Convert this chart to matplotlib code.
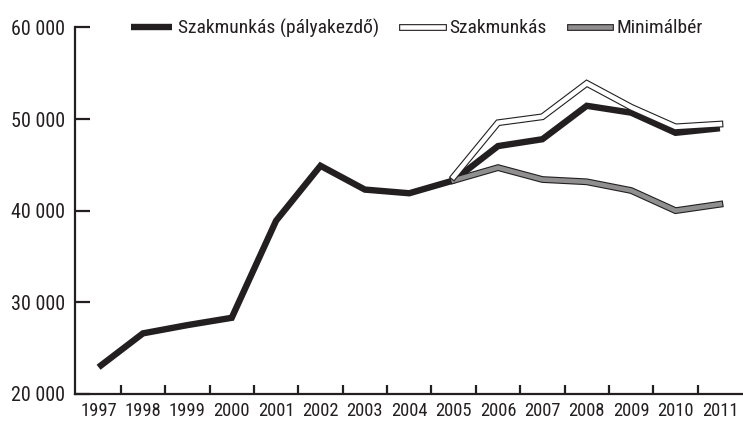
import matplotlib
matplotlib.use("Agg")
import matplotlib.pyplot as plt
import matplotlib.patheffects as pe
import numpy as np

plt.rcParams['font.family'] = ['Roboto Condensed', 'Archivo Narrow', 'PT Sans Narrow',
                               'Liberation Sans Narrow', 'Fira Sans Condensed',
                               'DejaVu Sans']

years = ["1997", "1998", "1999", "2000", "2001", "2002", "2003", "2004",
         "2005", "2006", "2007", "2008", "2009", "2010", "2011"]
palyakezdo = [22900, 26600, 27500, 28300, 38900, 44900, 42300, 41900,
              43300, 47050, 47800, 51450, 50700, 48500, 49000]
years_b = ["2005", "2006", "2007", "2008", "2009", "2010", "2011"]
szakmunkas = [43700, 49600, 50250, 53900, 51300, 49150, 49450]
minimalber = [43300, 44700, 43400, 43150, 42200, 40000, 40700]
yticks = [20000, 30000, 40000, 50000, 60000]
ytick_labels = ["20 000", "30 000", "40 000", "50 000", "60 000"]

ink = "#231f20"
fig = plt.figure(figsize=(7.43, 4.23), dpi=100)
ax = fig.add_axes([0.101, 0.069, 0.899, 0.866])

x_all = np.arange(len(years))
x_b = np.array([years.index(y) for y in years_b])

outline = [pe.Stroke(linewidth=4.9, foreground=ink, capstyle='projecting'), pe.Normal()]

ax.plot(x_all, palyakezdo, color=ink, lw=4.6, solid_joinstyle='miter',
        solid_capstyle='butt', label="Szakmunkás (pályakezdő)", zorder=3)
ax.plot(x_b, minimalber, color="#8f8f8f", lw=3.3, solid_joinstyle='miter',
        solid_capstyle='projecting', label="Minimálbér", zorder=4,
        path_effects=outline)
ax.plot(x_b, szakmunkas, color="white", lw=3.3, solid_joinstyle='miter',
        solid_capstyle='projecting', label="Szakmunkás", zorder=5,
        path_effects=outline)

ax.set_ylim(20000, 60000)
ax.set_xlim(-0.53, 14.52)
ax.set_yticks(yticks)
ax.set_yticklabels(ytick_labels)
ax.set_xticks(x_all)
ax.set_xticklabels(years)
ax.set_xticks(np.arange(len(years) - 1) + 0.5, minor=True)

ax.tick_params(axis='y', direction='in', length=11, width=1.6, color=ink,
               labelsize=14.5, labelcolor=ink, pad=7)
ax.tick_params(axis='x', which='major', length=0, labelsize=13.3, labelcolor=ink, pad=6)
ax.tick_params(axis='x', which='minor', direction='in', length=6.5, width=1.6, color=ink)

for s in ['top', 'right']:
    ax.spines[s].set_visible(False)
for s in ['left', 'bottom']:
    ax.spines[s].set_linewidth(1.6)
    ax.spines[s].set_color(ink)
ax.spines['left'].set_bounds(20000, 60000)

h, l = ax.get_legend_handles_labels()
order = [0, 2, 1]
leg = fig.legend([h[i] for i in order], [l[i] for i in order], loc='center left',
                 bbox_to_anchor=(131 / 743, 1 - 28 / 423), bbox_transform=fig.transFigure,
                 ncol=3, frameon=False, fontsize=14, borderpad=0, borderaxespad=0,
                 handlelength=2.1, handletextpad=0.3, columnspacing=1.2,
                 labelcolor=ink)

fig.savefig("out.png", dpi=100)
